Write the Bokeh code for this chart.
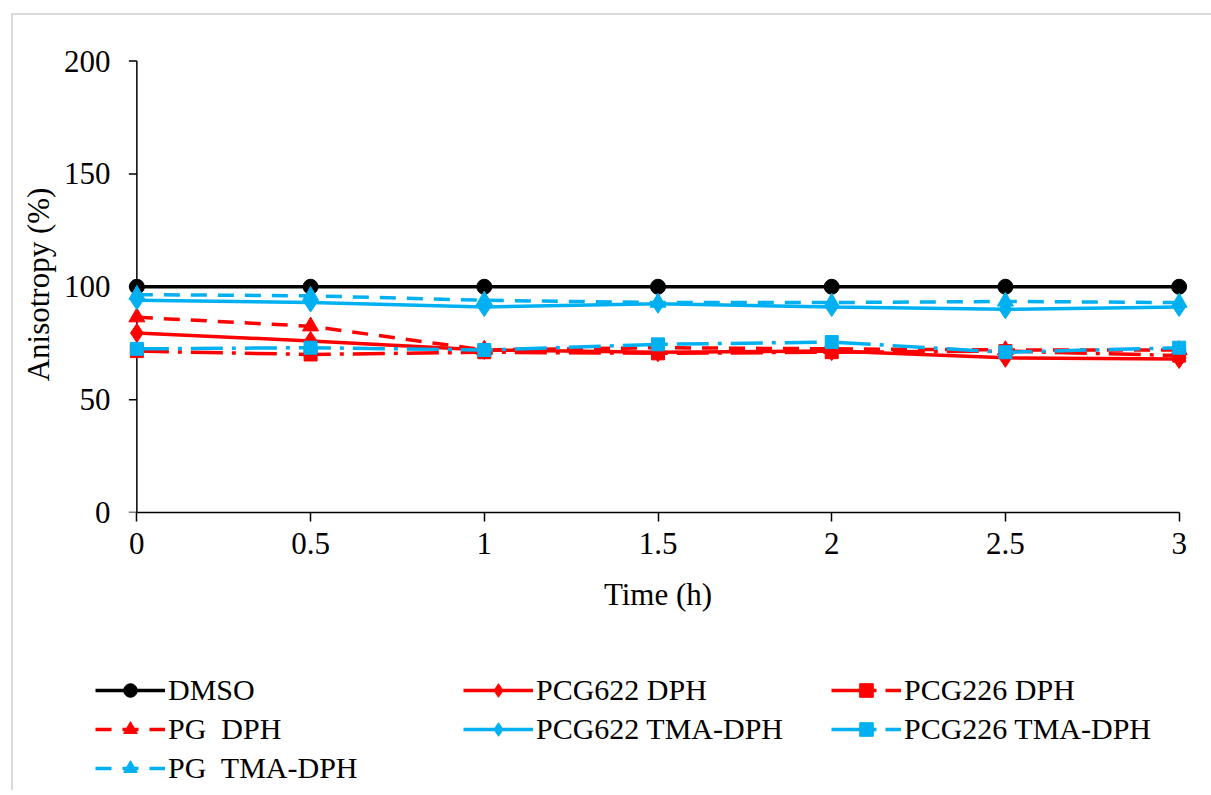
from bokeh.plotting import figure
from bokeh.layouts import column
from bokeh.models import FixedTicker, Legend, LegendItem, Title
from bokeh.embed import file_html
from bokeh.resources import INLINE

# ---------------- data ----------------
time_h = [0, 0.5, 1, 1.5, 2, 2.5, 3]
dmso = [100, 100, 100, 100, 100, 100, 100]
pcg622_dph = [79.5, 76, 72, 71, 71.5, 68.5, 68]
pcg226_dph = [71.5, 70, 71, 70.5, 71, 71.5, 69.5]
pg_dph = [86.5, 82.5, 72, 73, 72.5, 72, 72]
pcg622_tma = [94, 93, 91, 92.5, 91, 90, 91]
pcg226_tma = [72.5, 73, 72, 74.5, 75.5, 71, 73]
pg_tma = [96.5, 96, 94, 93, 93, 93.5, 93]

series_labels = ["DMSO", "PCG622 DPH", "PCG226 DPH", "PG  DPH",
                 "PCG622 TMA-DPH", "PCG226 TMA-DPH", "PG  TMA-DPH"]
x_ticks = [0, 0.5, 1, 1.5, 2, 2.5, 3]
x_tick_labels = ["0", "0.5", "1", "1.5", "2", "2.5", "3"]
y_ticks = [0, 50, 100, 150, 200]

# ---------------- style ----------------
FONT = "Liberation Serif"
RED = "#FF0000"
BLUE = "#00B0F0"
BLACK = "#000000"
DASHED = "16 11"
DASHDOT = "32 9 4 9"

styles = [
    dict(color=BLACK, dash="solid", marker="circle", size=15),
    dict(color=RED, dash="solid", marker="diamond", size=19),
    dict(color=RED, dash=DASHDOT, marker="square", size=13),
    dict(color=RED, dash=DASHED, marker="triangle", size=16),
    dict(color=BLUE, dash="solid", marker="diamond", size=19),
    dict(color=BLUE, dash=DASHDOT, marker="square", size=13),
    dict(color=BLUE, dash=DASHED, marker="triangle", size=16),
]
values = [dmso, pcg622_dph, pcg226_dph, pg_dph, pcg622_tma, pcg226_tma, pg_tma]

X_START, X_END = -0.05, 3.05
FRAME_W = 1077
TOTAL_W = 104 + FRAME_W + 15
MAIN_BOTTOM = 140
LEG_H = 138

p = figure(frame_width=FRAME_W, frame_height=456,
           x_range=(X_START, X_END), y_range=(0, 202),
           min_border_left=104, min_border_right=15,
           min_border_top=41, min_border_bottom=MAIN_BOTTOM,
           output_backend="svg", toolbar_location=None, tools="")
p.outline_line_color = None
p.grid.visible = False
p.background_fill_color = "white"
p.border_fill_color = "white"

# x axis
xa = p.xaxis[0]
xa.ticker = FixedTicker(ticks=x_ticks)
xa.major_label_overrides = {t: l for t, l in zip(x_ticks, x_tick_labels)}
xa.bounds = (min(x_ticks), max(x_ticks))
xa.axis_label = "Time (h)"
xa.axis_label_text_font = FONT
xa.axis_label_text_font_size = "31px"
xa.axis_label_text_font_style = "normal"
xa.axis_label_standoff = 20
xa.major_tick_out = 9
xa.major_tick_in = 0
xa.minor_tick_out = 0
xa.minor_tick_in = 0
xa.major_label_standoff = 11
xa.major_label_text_font = FONT
xa.major_label_text_font_size = "31px"
xa.axis_line_width = 1.5
xa.major_tick_line_width = 1.5
xa.axis_line_color = BLACK
xa.major_label_text_color = BLACK
xa.axis_label_text_color = BLACK

# y axis: labels from the axis, line and ticks drawn at x = 0
ya = p.yaxis[0]
ya.ticker = FixedTicker(ticks=y_ticks)
ya.axis_line_color = None
ya.major_tick_line_color = None
ya.major_tick_out = 0
ya.major_tick_in = 0
ya.minor_tick_out = 0
ya.minor_tick_in = 0
ya.major_label_standoff = 9
ya.major_label_text_font = FONT
ya.major_label_text_font_size = "31px"
ya.major_label_text_color = BLACK

px_per_unit = FRAME_W / (X_END - X_START)
tick_len = 8 / px_per_unit
p.segment(x0=[0], y0=[min(y_ticks)], x1=[0], y1=[max(y_ticks)],
          line_color=BLACK, line_width=1.5)
p.segment(x0=[-tick_len] * len(y_ticks), y0=y_ticks,
          x1=[0] * len(y_ticks), y1=y_ticks,
          line_color=BLACK, line_width=1.5)

p.add_layout(Title(text="Anisotropy (%)", align="center", standoff=10,
                   text_font=FONT, text_font_size="31px",
                   text_font_style="normal", text_color=BLACK), "left")

# legend figure (same series, drawn outside its visible range)
lf = figure(frame_width=TOTAL_W, frame_height=LEG_H,
            x_range=(100, 101), y_range=(0, 1),
            min_border=0, x_axis_location=None, y_axis_location=None,
            output_backend="svg", toolbar_location=None, tools="")
lf.outline_line_color = None
lf.grid.visible = False
lf.background_fill_color = "white"
lf.border_fill_color = "white"

items = []
for lab, ys, st in zip(series_labels, values, styles):
    for fig in (p, lf):
        ln = fig.line(time_h, ys, line_color=st["color"], line_width=3.5,
                      line_dash=st["dash"])
        sc = fig.scatter(time_h, ys, marker=st["marker"], size=st["size"],
                         fill_color=st["color"], line_color=st["color"])
    items.append(LegendItem(label=lab, renderers=[ln, sc]))

leg = Legend(items=items, orientation="horizontal", ncols=3,
             location=(82, 5))
leg.glyph_width = 70
leg.glyph_height = 34
leg.label_standoff = 3
leg.label_width = 290
leg.spacing = 5
leg.padding = 0
leg.margin = 0
leg.border_line_color = None
leg.background_fill_alpha = 0
leg.label_text_font = FONT
leg.label_text_font_size = "30px"
leg.label_text_color = BLACK
leg.label_text_baseline = "middle"
lf.add_layout(leg)

page = column(p, lf, spacing=0)
page.styles = {"margin-left": "11px", "margin-top": "13px",
               "border-left": "2px solid #d9d9d9",
               "border-top": "2px solid #d9d9d9"}

open("out.html", "w").write(file_html(page, INLINE))
